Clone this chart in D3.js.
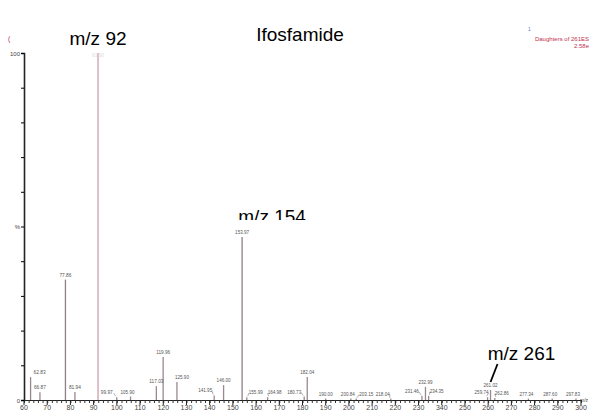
<!DOCTYPE html>
<html><head><meta charset="utf-8">
<script src="https://cdn.jsdelivr.net/npm/d3@7/dist/d3.min.js"></script>
<style>body{margin:0;background:#fff}svg{display:block}text{font-family:"Liberation Sans",Arial,sans-serif}</style>
</head><body><div id="c"></div>
<script>
const mzValues = [62.83,66.87,77.86,81.94,91.90,99.97,105.90,117.03,119.96,125.90,141.95,146.00,153.97,155.99,164.98,180.73,182.04,190.00,200.84,203.15,218.04,231.46,232.99,234.35,259.74,261.02,262.86,277.34,287.60,297.83];
const intensities = [6.6,2.2,34.7,2.3,100,0.8,1.0,4.0,12.4,5.2,1.3,4.3,47,0.8,0.8,1.0,6.6,0.4,0.4,0.4,0.4,1.2,3.8,1.2,0.8,2.9,0.6,0.4,0.4,0.4];
const peakLabels = ["62.83","66.87","77.86","81.94","91.90","99.97","105.90","117.03","119.96","125.90","141.95","146.00","153.97","155.99","164.98","180.73","182.04","190.00","200.84","203.15","218.04","231.46","232.99","234.35","259.74","261.02","262.86","277.34","287.60","297.83"];
// layout only: horizontal nudge (px) of each peak label, as in the reference
const labelNudge = [9,0,0,0,0,-10,-3,0,0,5,-9,0,0,9,7,-10,0,0,-3,10,-8,-10,0,8,-6,0,7,-2,-2,-3];
const xTicks = [60,70,80,90,100,110,120,130,140,150,160,170,180,190,200,210,220,230,240,250,260,270,280,290,300];
const xTickLabels = ["60","70","80","90","100","110","120","130","140","150","160","170","180","190","200","210","220","230","340","250","260","270","280","290","300"];
const yTicks = [0,50,100];
const yTickLabels = ["0","%","100"];
const annotations = [{text:"m/z 92",mz:91.9},{text:"m/z 154",mz:153.97},{text:"m/z 261",mz:261.02}];

const W=589,H=416;
const svg=d3.select("#c").append("svg").attr("width",W).attr("height",H);
const x=d3.scaleLinear().domain([60,300]).range([24,581]);
const y=d3.scaleLinear().domain([0,100]).range([400,53]);

// title & corner texts
svg.append("text").attr("x",300).attr("y",41).attr("text-anchor","middle").attr("font-size",19).text("Ifosfamide");
svg.append("text").attr("x",8).attr("y",41).attr("font-size",7).attr("fill","#c03050").text("(");
svg.append("text").attr("x",528).attr("y",31).attr("font-size",5).attr("fill","#6080c0").text("1");
svg.append("text").attr("x",589).attr("y",41).attr("text-anchor","end").attr("font-size",6).attr("fill","#c03050").text("Daughters of 261ES");
svg.append("text").attr("x",589).attr("y",48).attr("text-anchor","end").attr("font-size",6).attr("fill","#c03050").text("2.58e");

// peaks
const idx=d3.range(mzValues.length);
svg.append("g").selectAll("line").data(idx).join("line")
  .attr("x1",i=>x(mzValues[i])).attr("x2",i=>x(mzValues[i]))
  .attr("y1",y(0)).attr("y2",i=>y(intensities[i]))
  .attr("stroke",i=>intensities[i]>90?"#c9a2ae":(intensities[i]>20?"#8c8088":"#9a8890")).attr("stroke-width",1.3);

const labY=i=>Math.max(Math.min(y(intensities[i])-3,396),57);
const labX=i=>x(mzValues[i])+labelNudge[i];
svg.append("g").selectAll("text").data(idx).join("text")
  .attr("x",labX).attr("y",labY)
  .attr("text-anchor","middle").attr("font-size",6)
  .attr("textLength",i=>peakLabels[i].length>5?14:12).attr("lengthAdjust","spacingAndGlyphs")
  .attr("fill",i=>intensities[i]>90?"#e0d8dc":"#555")
  .text(i=>peakLabels[i]);
// leader ticks for nudged labels
svg.append("g").selectAll("line").data(idx.filter(i=>Math.abs(labelNudge[i])>5&&intensities[i]<3)).join("line")
  .attr("x1",i=>labX(i)+(labelNudge[i]<0?7:-7)).attr("y1",i=>labY(i)-1)
  .attr("x2",i=>x(mzValues[i])+(labelNudge[i]<0?-1:1)).attr("y2",i=>labY(i)+2)
  .attr("stroke","#777").attr("stroke-width",0.6);

// axes
const xa=svg.append("g").attr("transform",`translate(0,${y(0)})`);
xa.call(d3.axisBottom(x).tickValues(d3.range(60,301,2)).tickSize(3).tickFormat(""));
xa.select(".domain").attr("stroke","#222");
xa.selectAll(".tick line").attr("stroke","#333");
xa.append("g").selectAll("line").data(xTicks).join("line")
  .attr("x1",d=>x(d)).attr("x2",d=>x(d)).attr("y1",0).attr("y2",5).attr("stroke","#222");
xa.append("g").selectAll("text").data(xTicks).join("text")
  .attr("x",d=>x(d)).attr("y",10).attr("text-anchor","middle").attr("font-size",7).attr("fill","#444")
  .text((d,i)=>xTickLabels[i]);
xa.append("text").attr("x",584).attr("y",2).attr("font-size",5).attr("fill","#444").text("m/z");

const ya=svg.append("g").attr("transform",`translate(${x(60)},0)`);
ya.call(d3.axisLeft(y).tickValues(d3.range(0,101,10)).tickSize(3).tickFormat(""));
ya.select(".domain").attr("stroke","#222").attr("stroke-width",1.6);
ya.append("g").selectAll("text").data(yTicks).join("text")
  .attr("x",-4).attr("y",d=>y(d)+2.5).attr("text-anchor","end").attr("font-size",6).attr("fill","#444")
  .text((d,i)=>yTickLabels[i]);

// annotations
const ann=svg.append("g").attr("font-size",19).attr("fill","#000");
ann.append("text").attr("x",x(annotations[0].mz)).attr("y",45).attr("text-anchor","middle").text(annotations[0].text);
svg.append("clipPath").attr("id","cl").append("rect").attr("x",0).attr("y",0).attr("width",W).attr("height",220);
ann.append("text").attr("x",x(annotations[1].mz)+30).attr("y",223).attr("text-anchor","middle").attr("clip-path","url(#cl)").text(annotations[1].text);
ann.append("text").attr("x",x(annotations[2].mz)+31).attr("y",360).attr("text-anchor","middle").text(annotations[2].text);
svg.append("line").attr("x1",x(annotations[2].mz)+7).attr("y1",364).attr("x2",x(annotations[2].mz)).attr("y2",382).attr("stroke","#000").attr("stroke-width",1.8);
</script></body></html>
